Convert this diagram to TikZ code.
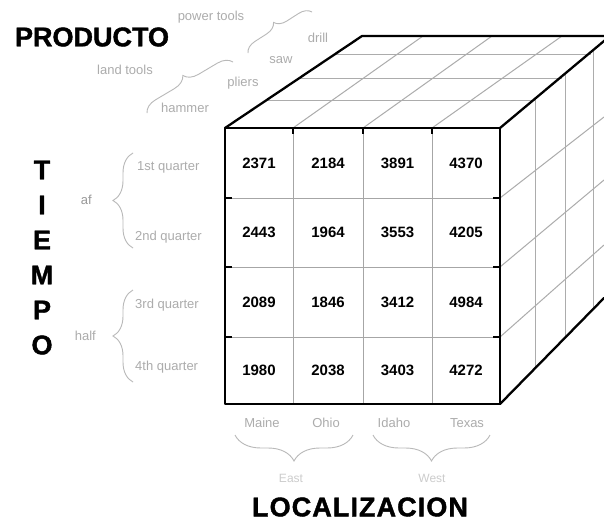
\documentclass[tikz,border=0pt]{standalone}
\usepackage{fontspec}
\setmainfont{Liberation Sans}
\newfontfamily\heavyfont[FakeBold=1.5]{Liberation Sans Bold}
\usetikzlibrary{decorations.pathreplacing}
\begin{document}
\begin{tikzpicture}[x=1pt,y=-1pt,
  edge/.style={line width=2.3pt, black, line cap=round, line join=round},
  fgrid/.style={line width=0.8pt, gray!70},
  tgrid/.style={line width=1pt, gray!65},
  tick/.style={line width=2pt, black},
  num/.style={font=\fontsize{15}{15}\selectfont\bfseries, inner sep=0pt},
  lbl/.style={text=gray!65, font=\fontsize{13}{13}\selectfont, inner sep=0pt},
  faint/.style={text=gray!40, font=\fontsize{12}{12}\selectfont, inner sep=0pt},
  title/.style={font=\heavyfont\fontsize{27}{27}\selectfont, inner sep=0pt},
  brc/.style={draw=gray!55, line width=0.9pt, decorate, decoration={brace, amplitude=#1}}
]
\useasboundingbox (0,0) rectangle (604,522);
\fill[white] (0,0) rectangle (604,522);
\begin{scope}
\clip (0,0) rectangle (604,522);
% cube corners
\coordinate (FTL) at (225,128);
\coordinate (FTR) at (500,128);
\coordinate (FBL) at (225,404);
\coordinate (FBR) at (500,404);
\coordinate (BTL) at (362,36);
\coordinate (BTR) at (610,36);
\coordinate (BBR) at (604,298);
% top face grid
\draw[tgrid] (335,54) -- (591,54);
\draw[tgrid] (299,78) -- (562,78);
\draw[tgrid] (267,100) -- (535,100);
\draw[tgrid] (293,128) -- (423,36);
\draw[tgrid] (363,128) -- (492,36);
\draw[tgrid] (432,128) -- (562,36);
% right face grid
\draw[tgrid] (535,99) -- (535,368);
\draw[tgrid] (565,74) -- (565,338);
\draw[tgrid] (593,50) -- (593,309);
\draw[tgrid] (500,198) -- (604,117);
\draw[tgrid] (500,267) -- (604,180);
\draw[tgrid] (500,337) -- (604,245);
% front grid
\foreach \x in {293,363,432} \draw[fgrid] (\x,128) -- (\x,404);
\foreach \y in {198,267,337} \draw[fgrid] (225,\y) -- (500,\y);
\foreach \y in {198,267,337} {\draw[tick] (225,\y) -- (232,\y); \draw[tick] (493,\y) -- (500,\y);}
\foreach \x in {293,363,432} \draw[tick] (\x,128) -- (\x,134);
% cube edges
\draw[edge] (FTL) -- (FTR) -- (FBR) -- (FBL) -- cycle;
\draw[edge] (FTL) -- (BTL) -- (BTR);
\draw[edge] (FTR) -- (BTR);
\draw[edge] (FBR) -- (BBR);
\end{scope}
% numbers
\node[num] (c11) at (259,163) {2371};
\node[num] (c12) at (328,163) {2184};
\node[num] (c13) at (397.5,163) {3891};
\node[num] (c14) at (466,163) {4370};
\node[num] (c21) at (259,232.5) {2443};
\node[num] (c22) at (328,232.5) {1964};
\node[num] (c23) at (397.5,232.5) {3553};
\node[num] (c24) at (466,232.5) {4205};
\node[num] (c31) at (259,302) {2089};
\node[num] (c32) at (328,302) {1846};
\node[num] (c33) at (397.5,302) {3412};
\node[num] (c34) at (466,302) {4984};
\node[num] (c41) at (259,370.5) {1980};
\node[num] (c42) at (328,370.5) {2038};
\node[num] (c43) at (397.5,370.5) {3403};
\node[num] (c44) at (466,370.5) {4272};
% titles
\node[title] (prod) at (92,37) {PRODUCTO};
\node[title, font=\heavyfont\fontsize{27}{27}\selectfont\addfontfeature{LetterSpace=4}] (loc) at (360,507) {LOCALIZACION};
\foreach \l/\yy/\n in {T/170/t1,I/205/t2,E/240/t3,M/275/t4,P/310/t5,O/345/t6}
  \node[title] (\n) at (42,\yy) {\l};
% time labels
\node[lbl, anchor=west] (q1) at (137,167) {1st quarter};
\node[lbl, anchor=west] (q2) at (135,237) {2nd quarter};
\node[lbl, anchor=west] (q3) at (135,305) {3rd quarter};
\node[lbl, anchor=west] (q4) at (135,367) {4th quarter};
\node[lbl, anchor=east, text=gray!80] (h1) at (92,200) {af};
\node[lbl, anchor=east] (h2) at (96,336) {half};
\coordinate (b1a) at (133,248); \coordinate (b1b) at (133,153);
\coordinate (b2a) at (133,382); \coordinate (b2b) at (133,290);
\draw[brc=20] (b1a) -- (b1b);
\draw[brc=20] (b2a) -- (b2b);
% product labels
\node[lbl] (pt) at (211,17) {power tools};
\node[lbl] (dr) at (318,38) {drill};
\node[lbl] (sw) at (281,60) {saw};
\node[lbl] (ht) at (125,70) {land tools};
\node[lbl] (pl) at (243,83) {pliers};
\node[lbl] (hm) at (185,108) {hammer};
\coordinate (p1a) at (248,53); \coordinate (p1b) at (312,12);
\coordinate (p2a) at (147,113); \coordinate (p2b) at (233,62);
\draw[brc=12] (p1a) -- (p1b);
\draw[brc=14] (p2a) -- (p2b);
% location labels
\node[lbl] (me) at (262,423) {Maine};
\node[lbl] (oh) at (326,423) {Ohio};
\node[lbl] (id) at (394,423) {Idaho};
\node[lbl] (tx) at (467,423) {Texas};
\coordinate (e1) at (353,435); \coordinate (e2) at (235,435);
\coordinate (w1) at (490,435); \coordinate (w2) at (373,435);
\draw[brc=26] (e1) -- (e2);
\draw[brc=26] (w1) -- (w2);
\node[faint] (ea) at (291,478) {East};
\node[faint] (we) at (432,478) {West};
\end{tikzpicture}
\end{document}
